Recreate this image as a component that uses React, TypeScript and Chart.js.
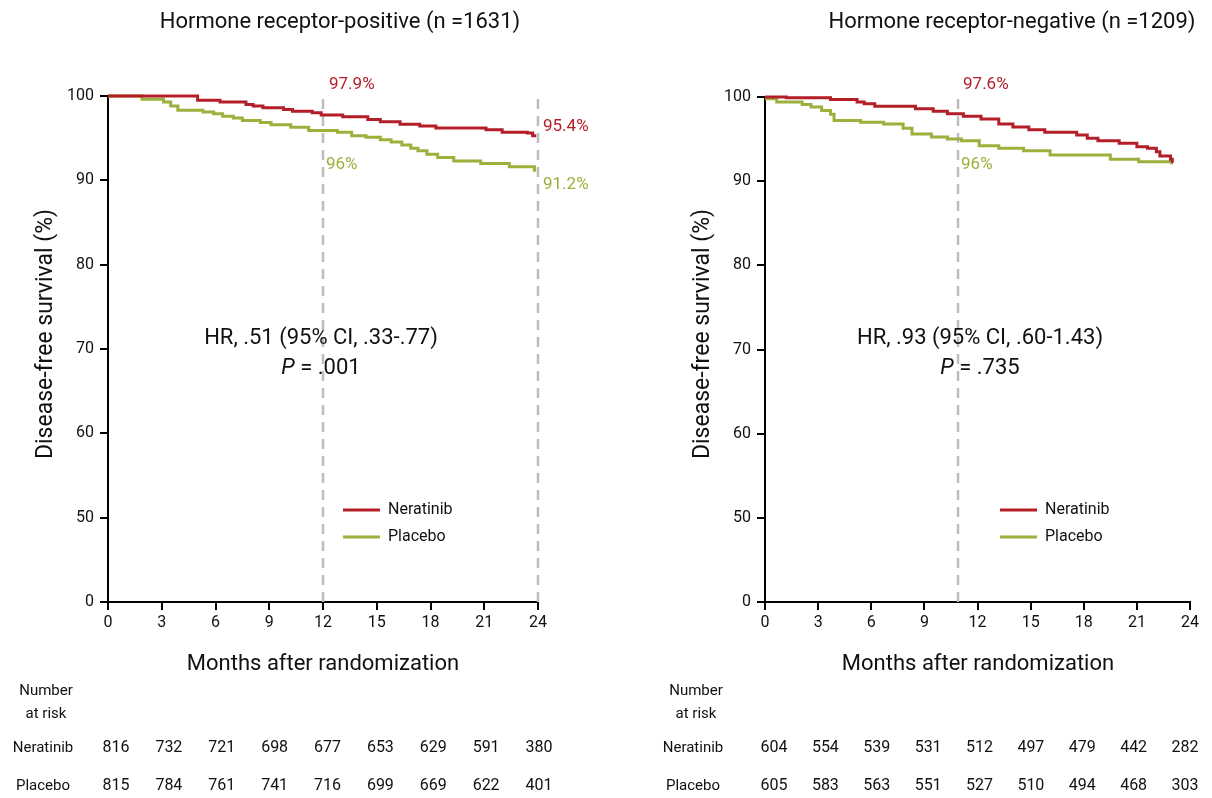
import React, { useEffect, useRef } from 'react';
import { Chart, registerables } from 'chart.js';

Chart.register(...registerables);

const RED = '#b31e27';
const GREEN = '#9cb03c';
const DASH = '#bdbdbd';
const FONT = 'Roboto, "Liberation Sans", sans-serif';

const monthTicks = [0, 3, 6, 9, 12, 15, 18, 21, 24];
const yTickValues = [40, 50, 60, 70, 80, 90, 100];
const yTickLabels = ['0', '50', '60', '70', '80', '90', '100'];

// Hormone receptor-positive
const posNerTime = [0, 5.0, 6.25, 7.7, 8.1, 8.65, 9.8, 10.3, 11.4, 11.9, 13.1, 14.5, 15.2, 16.3, 17.4, 18.3, 21.1, 22.0, 23.4, 23.7, 23.9];
const posNerSurv = [100, 99.5, 99.3, 99.0, 98.8, 98.6, 98.4, 98.2, 98.0, 97.75, 97.55, 97.2, 96.96, 96.65, 96.45, 96.2, 96.0, 95.7, 95.6, 95.3, 95.3];
const posPlaTime = [0, 1.9, 3.1, 3.5, 3.9, 5.3, 5.9, 6.4, 7.0, 7.5, 8.5, 9.1, 10.2, 11.2, 12.8, 13.6, 14.4, 15.2, 15.8, 16.4, 16.9, 17.3, 17.8, 18.4, 19.3, 20.8, 22.4, 23.8, 23.9];
const posPlaSurv = [100, 99.6, 99.3, 98.8, 98.3, 98.1, 97.9, 97.6, 97.4, 97.1, 96.85, 96.6, 96.3, 95.9, 95.7, 95.3, 95.1, 94.8, 94.55, 94.2, 93.8, 93.5, 93.1, 92.7, 92.3, 92.0, 91.6, 91.2, 91.2];
const posRiskNer = [816, 732, 721, 698, 677, 653, 629, 591, 380];
const posRiskPla = [815, 784, 761, 741, 716, 699, 669, 622, 401];
const posDashMonths = [12, 24];

// Hormone receptor-negative
const negNerTime = [0, 1.2, 3.7, 5.2, 5.6, 6.2, 8.5, 9.5, 10.3, 11.2, 12.2, 13.2, 14.0, 14.9, 15.8, 17.6, 18.2, 18.8, 20.0, 21.0, 21.6, 22.1, 22.3, 22.9, 23.0];
const negNerSurv = [100, 99.9, 99.7, 99.4, 99.2, 98.9, 98.6, 98.3, 98.0, 97.7, 97.4, 96.8, 96.45, 96.1, 95.8, 95.5, 95.1, 94.8, 94.5, 94.1, 93.9, 93.5, 93.0, 92.6, 92.2];
const negPlaTime = [0, 0.66, 2.1, 2.6, 3.2, 3.7, 3.9, 5.4, 6.7, 7.8, 8.3, 9.4, 10.3, 11.1, 12.1, 13.2, 14.6, 16.1, 19.5, 21.1, 22.96];
const negPlaSurv = [99.8, 99.4, 99.1, 98.8, 98.4, 97.95, 97.2, 97.0, 96.8, 96.3, 95.6, 95.25, 95.0, 94.8, 94.2, 93.9, 93.6, 93.1, 92.6, 92.3, 92.0];
const negRiskNer = [604, 554, 539, 531, 512, 497, 479, 442, 282];
const negRiskPla = [605, 583, 563, 551, 527, 510, 494, 468, 303];
const negDashMonths = [10.9];

type Label = { text: string; color: string; at: number; dx: number; y: number };

type Panel = {
  offset: number;
  width: number;
  area: { left: number; right: number; top: number; bottom: number };
  title: string;
  titleX: number;
  nerT: number[]; nerS: number[]; plaT: number[]; plaS: number[];
  dash: number[];
  labels: Label[];
  hr: string; p: string; hrX: number;
  legendX: number;
  yTitleX: number;
  xTitleX: number;
  riskLabelX: number;
  riskNer: number[]; riskPla: number[];
  riskX0: number; riskX1: number;
};

const panels: Panel[] = [
  {
    offset: 0, width: 606,
    area: { left: 108, right: 538, top: 96, bottom: 602 },
    title: 'Hormone receptor-positive (n =1631)', titleX: 340,
    nerT: posNerTime, nerS: posNerSurv, plaT: posPlaTime, plaS: posPlaSurv,
    dash: posDashMonths,
    labels: [
      { text: '97.9%', color: RED, at: 12, dx: 6, y: 85 },
      { text: '95.4%', color: RED, at: 24, dx: 5, y: 127 },
      { text: '96%', color: GREEN, at: 12, dx: 3, y: 165 },
      { text: '91.2%', color: GREEN, at: 24, dx: 5, y: 185 },
    ],
    hr: 'HR, .51 (95% CI, .33-.77)', p: ' = .001', hrX: 321,
    legendX: 343, yTitleX: 46, xTitleX: 323, riskLabelX: 43,
    riskNer: posRiskNer, riskPla: posRiskPla, riskX0: 116, riskX1: 539,
  },
  {
    offset: 606, width: 606,
    area: { left: 765, right: 1190, top: 97, bottom: 602 },
    title: 'Hormone receptor-negative (n =1209)', titleX: 1012,
    nerT: negNerTime, nerS: negNerSurv, plaT: negPlaTime, plaS: negPlaSurv,
    dash: negDashMonths,
    labels: [
      { text: '97.6%', color: RED, at: 10.9, dx: 5, y: 85 },
      { text: '96%', color: GREEN, at: 10.9, dx: 3, y: 165 },
    ],
    hr: 'HR, .93 (95% CI, .60-1.43)', p: ' = .735', hrX: 980,
    legendX: 1000, yTitleX: 703, xTitleX: 978, riskLabelX: 693,
    riskNer: negRiskNer, riskPla: negRiskPla, riskX0: 774, riskX1: 1185,
  },
];

function pts(t: number[], s: number[]) {
  return t.map((x, i) => ({ x, y: s[i] }));
}

function text(ctx: CanvasRenderingContext2D, s: string, x: number, y: number, size: number, color = '#111', align: CanvasTextAlign = 'center', style = '') {
  ctx.save();
  ctx.font = `${style} ${size}px ${FONT}`;
  ctx.fillStyle = color;
  ctx.textAlign = align;
  ctx.textBaseline = 'middle';
  ctx.fillText(s, x, y);
  ctx.restore();
}

function makeChart(canvas: HTMLCanvasElement, p: Panel) {
  const X_AXIS_H = 40;
  const a = {
    left: p.area.left - p.offset,
    right: p.area.right - p.offset,
    top: p.area.top,
    bottom: p.area.bottom,
  };
  const o = p.offset;
  const overlay = {
    id: 'overlay',
    afterDraw(chart: any) {
      const ctx: CanvasRenderingContext2D = chart.ctx;
      const xs = chart.scales.x;
      text(ctx, p.title, p.titleX - o, 22, 22);
      ctx.save();
      ctx.translate(p.yTitleX - o, 334);
      ctx.rotate(-Math.PI / 2);
      text(ctx, 'Disease-free survival (%)', 0, 0, 23);
      ctx.restore();
      text(ctx, 'Months after randomization', p.xTitleX - o, 664, 22);
      p.labels.forEach((l) => {
        text(ctx, l.text, xs.getPixelForValue(l.at) + l.dx, l.y, 17, l.color, 'left');
      });
      // HR text
      text(ctx, p.hr, p.hrX - o, 338, 22);
      ctx.save();
      ctx.font = `italic 22px ${FONT}`;
      const w1 = ctx.measureText('P').width;
      ctx.font = `22px ${FONT}`;
      const w2 = ctx.measureText(p.p).width;
      ctx.restore();
      const sx = p.hrX - o - (w1 + w2) / 2;
      text(ctx, 'P', sx, 368, 22, '#111', 'left', 'italic');
      text(ctx, p.p, sx + w1, 368, 22, '#111', 'left');
      // legend
      const leg = [
        { name: 'Neratinib', color: RED, y: 510 },
        { name: 'Placebo', color: GREEN, y: 537 },
      ];
      leg.forEach((g) => {
        ctx.save();
        ctx.strokeStyle = g.color;
        ctx.lineWidth = 3;
        ctx.beginPath();
        ctx.moveTo(p.legendX - o, g.y);
        ctx.lineTo(p.legendX - o + 37, g.y);
        ctx.stroke();
        ctx.restore();
        text(ctx, g.name, p.legendX - o + 45, g.y, 16, '#111', 'left');
      });
      // number at risk
      text(ctx, 'Number', p.riskLabelX - o + 3, 691, 15);
      text(ctx, 'at risk', p.riskLabelX - o + 3, 714, 15);
      text(ctx, 'Neratinib', p.riskLabelX - o, 748, 15);
      text(ctx, 'Placebo', p.riskLabelX - o, 786, 15);
      const n = p.riskNer.length;
      for (let i = 0; i < n; i++) {
        const x = p.riskX0 + ((p.riskX1 - p.riskX0) * i) / (n - 1) - o;
        text(ctx, String(p.riskNer[i]), x, 748, 16);
        text(ctx, String(p.riskPla[i]), x, 786, 16);
      }
    },
  };

  const dashSets = p.dash.map((m) => ({
    label: 'dash',
    data: [{ x: m, y: 40 }, { x: m, y: 100 }],
    borderColor: DASH,
    borderWidth: 2.5,
    borderDash: [10, 7],
    pointRadius: 0,
    fill: false,
    clip: false,
  }));

  return new Chart(canvas, {
    type: 'line',
    data: {
      datasets: [
        { label: 'Neratinib', data: pts(p.nerT, p.nerS), borderColor: RED, borderWidth: 3, pointRadius: 0, stepped: 'before', fill: false, clip: false } as any,
        { label: 'Placebo', data: pts(p.plaT, p.plaS), borderColor: GREEN, borderWidth: 3, pointRadius: 0, stepped: 'before', fill: false, clip: false } as any,
        ...dashSets,
      ],
    },
    options: {
      animation: false,
      responsive: false,
      layout: {
        padding: { left: 0, top: a.top, right: p.width - a.right, bottom: 798 - a.bottom - X_AXIS_H },
      },
      plugins: { legend: { display: false }, tooltip: { enabled: false }, title: { display: false } },
      scales: {
        x: {
          type: 'linear',
          min: 0,
          max: 24,
          afterFit: (s: any) => { s.height = X_AXIS_H; },
          afterBuildTicks: (s: any) => { s.ticks = monthTicks.map((v) => ({ value: v })); },
          ticks: { color: '#111', font: { size: 16, family: FONT }, padding: 3, maxRotation: 0, autoSkip: false },
          grid: { display: true, drawOnChartArea: false, drawTicks: true, tickLength: 8, color: '#000', lineWidth: 2 },
          border: { display: true, color: '#000', width: 2 },
        },
        y: {
          type: 'linear',
          min: 40,
          max: 100,
          afterFit: (s: any) => { s.width = a.left; },
          afterBuildTicks: (s: any) => { s.ticks = yTickValues.map((v) => ({ value: v })); },
          ticks: {
            color: '#111',
            font: { size: 16, family: FONT },
            padding: 6,
            autoSkip: false,
            callback: (v: any) => {
              const i = yTickValues.indexOf(Number(v));
              return i >= 0 ? yTickLabels[i] : '';
            },
          },
          grid: { display: true, drawOnChartArea: false, drawTicks: true, tickLength: 8, color: '#000', lineWidth: 2 },
          border: { display: true, color: '#000', width: 2 },
        },
      },
    } as any,
    plugins: [overlay],
  });
}

function PanelChart({ panel }: { panel: Panel }) {
  const ref = useRef<HTMLCanvasElement | null>(null);
  useEffect(() => {
    if (!ref.current) return;
    const c = makeChart(ref.current, panel);
    return () => c.destroy();
  }, [panel]);
  return (
    <canvas
      ref={ref}
      width={panel.width}
      height={798}
      style={{ position: 'absolute', left: panel.offset, top: 0, width: panel.width, height: 798 }}
    />
  );
}

export default function App() {
  return (
    <div style={{ position: 'absolute', left: 0, top: 0, width: 1212, height: 798, background: '#fff', fontFamily: FONT }}>
      {panels.map((p, i) => (
        <PanelChart key={i} panel={p} />
      ))}
    </div>
  );
}
